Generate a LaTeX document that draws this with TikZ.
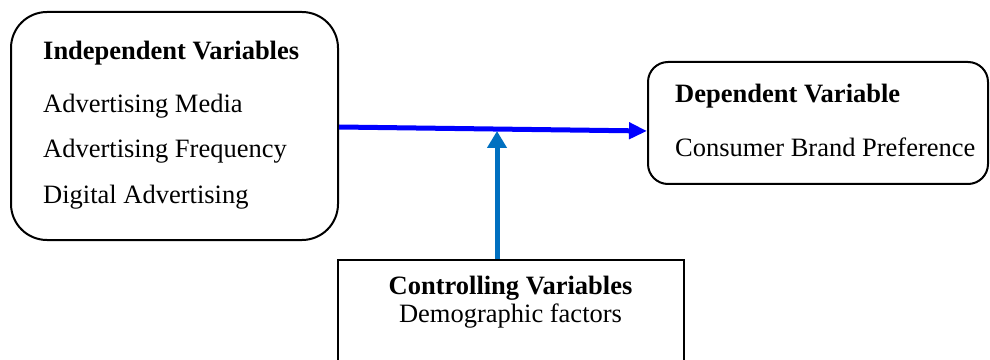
\documentclass[tikz,border=0pt]{standalone}
\usepackage{fontspec}
\setmainfont{Liberation Serif}
\usetikzlibrary{arrows.meta}
\begin{document}
\begin{tikzpicture}[x=1pt,y=1pt,
  rbox/.style={draw=black,line width=2pt,inner sep=0pt},
  txt/.style={anchor=base west,inner sep=0pt,font=\fontsize{26.5}{30}\selectfont},
  btxt/.style={txt,font=\fontsize{26.5}{30}\selectfont\bfseries},
  ctxt/.style={anchor=base,inner sep=0pt,font=\fontsize{26.5}{30}\selectfont},
  mainarrow/.style={draw={rgb,255:red,0;green,0;blue,255},line width=5pt,-{Triangle[length=18pt,width=16pt]}},
  ctrlarrow/.style={draw={rgb,255:red,0;green,112;blue,192},line width=5pt,-{Triangle[length=17pt,width=19pt]}}
]
\useasboundingbox (0,0) rectangle (990,359);
% boxes (y = 359 - pixel row)
\node[rbox,rounded corners=36pt,minimum width=327pt,minimum height=228pt] (ind) at (174.5,233) {};
\node[rbox,rounded corners=20pt,minimum width=340pt,minimum height=122pt] (dep) at (818,236) {};
\node[rbox,minimum width=346pt,minimum height=120pt] (ctrl) at (511,39) {};
% texts
\node[btxt] (t1) at (43,299) {Independent Variables};
\node[txt] (t2) at (43,246) {Advertising Media};
\node[txt] (t3) at (43,201) {Advertising Frequency};
\node[txt] (t4) at (43,155) {Digital Advertising};
\node[btxt] (t5) at (675,256) {Dependent Variable};
\node[txt] (t6) at (675,202) {Consumer Brand Preference};
\node[ctxt,font=\fontsize{26.5}{30}\selectfont\bfseries] (t7) at (510.5,65) {Controlling Variables};
\node[ctxt] (t8) at (510.5,37) {Demographic factors};
% connectors
\coordinate (mstart) at (ind.east |- 0,232);
\coordinate (mend) at (dep.west |- 0,228);
\draw[mainarrow] (mstart) -- (mend);
\coordinate (cstart) at (497,0 |- ctrl.north);
\coordinate (cend) at (497,228);
\draw[ctrlarrow] (cstart) -- (cend);
\end{tikzpicture}
\end{document}
